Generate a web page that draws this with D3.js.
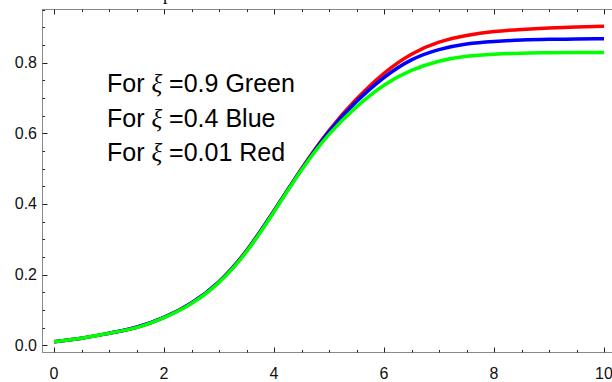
<!DOCTYPE html>
<html>
<head>
<meta charset="utf-8">
<script src="https://cdn.jsdelivr.net/npm/d3@7"></script>
<style>
  body { margin: 0; background: #fff; }
  svg { display: block; }
</style>
</head>
<body>
<svg></svg>
<script>
const width = 612
const height = 382

// every 0.5 in x
const xs = [0, 0.5, 1, 1.5, 2, 2.5, 3, 3.5, 4, 4.5, 5, 5.5, 6, 6.5, 7, 7.5, 8, 8.5, 9, 9.5, 10]
const red = [0.010, 0.020, 0.034, 0.051, 0.079, 0.120, 0.180, 0.268, 0.381, 0.500, 0.608, 0.697, 0.770, 0.824, 0.858, 0.877, 0.888, 0.894, 0.898, 0.901, 0.903]
const blue = [0.010, 0.020, 0.034, 0.051, 0.079, 0.120, 0.180, 0.267, 0.380, 0.498, 0.605, 0.690, 0.758, 0.808, 0.837, 0.853, 0.860, 0.864, 0.866, 0.867, 0.868]
const green = [0.010, 0.020, 0.034, 0.050, 0.078, 0.118, 0.178, 0.265, 0.378, 0.496, 0.597, 0.675, 0.736, 0.778, 0.804, 0.818, 0.824, 0.827, 0.828, 0.829, 0.829]

const xTicks = [0, 2, 4, 6, 8, 10]
const yTicks = [0, 0.2, 0.4, 0.6, 0.8]
const legendLines = [['0.9', 'Green'], ['0.4', 'Blue'], ['0.01', 'Red']]

const svg = d3.select('svg')
    .attr('width', width)
    .attr('height', height)

const x = d3.scaleLinear()
    .domain([-0.21, 10.2])
    .range([42.5, 615])
const y = d3.scaleLinear()
    .domain([-0.0205, 0.9505])
    .range([352.5, 9.5])

// cut-off title descender at the very top
svg.append('text')
    .attr('x', 163)
    .attr('y', -0.5)
    .attr('font-family', 'Liberation Serif')
    .attr('font-size', 18)
    .text('p')

// frame
svg.append('rect')
    .attr('x', x.range()[0])
    .attr('y', y.range()[1])
    .attr('width', x.range()[1] - x.range()[0])
    .attr('height', y.range()[0] - y.range()[1])
    .attr('fill', 'none')
    .attr('stroke', '#8a8a8a')
    .attr('stroke-width', 1)

const xMinor = d3.range(0, 10.01, 0.5)
const yMinor = d3.range(0, 0.951, 0.05)

const tickG = svg.append('g')
    .attr('stroke', '#222')
    .attr('stroke-width', 1)

// bottom & top ticks
tickG.selectAll('.xb')
    .data(xMinor)
    .enter()
    .append('line')
    .attr('x1', d => Math.round(x(d)) + 0.5)
    .attr('x2', d => Math.round(x(d)) + 0.5)
    .attr('y1', y.range()[0])
    .attr('y2', d => y.range()[0] - (Math.abs(d % 2) < 1e-6 ? 5 : 2.5))
tickG.selectAll('.xt')
    .data(xMinor)
    .enter()
    .append('line')
    .attr('x1', d => Math.round(x(d)) + 0.5)
    .attr('x2', d => Math.round(x(d)) + 0.5)
    .attr('y1', y.range()[1])
    .attr('y2', d => y.range()[1] + (Math.abs(d % 2) < 1e-6 ? 5 : 2.5))
// left ticks
tickG.selectAll('.yl')
    .data(yMinor)
    .enter()
    .append('line')
    .attr('y1', d => Math.round(y(d)) + 0.5)
    .attr('y2', d => Math.round(y(d)) + 0.5)
    .attr('x1', x.range()[0])
    .attr('x2', d => x.range()[0] + (Math.abs(Math.round(d * 100) % 20) < 1e-6 ? 5 : 2.5))

// tick labels
svg.append('g')
    .selectAll('text')
    .data(xTicks)
    .enter()
    .append('text')
    .attr('x', d => x(d))
    .attr('y', 379)
    .attr('text-anchor', 'middle')
    .attr('font-family', 'Liberation Sans, Arial, sans-serif')
    .attr('font-size', 16)
    .attr('fill', '#111')
    .text(d => d)

svg.append('g')
    .selectAll('text')
    .data(yTicks)
    .enter()
    .append('text')
    .attr('x', 37)
    .attr('y', d => y(d) + 5.5)
    .attr('text-anchor', 'end')
    .attr('font-family', 'Liberation Sans, Arial, sans-serif')
    .attr('font-size', 16)
    .attr('fill', '#111')
    .text(d3.format('.1f'))

// curves
const line = d3.line()
    .x((d, i) => x(xs[i]))
    .y(d => y(d))
    .curve(d3.curveNatural)

const series = [[red, '#ff0000'], [blue, '#0000ff'], [green, '#00ff00']]
svg.append('g')
    .selectAll('path')
    .data(series)
    .enter()
    .append('path')
    .attr('d', d => line(d[0]))
    .attr('fill', 'none')
    .attr('stroke', d => d[1])
    .attr('stroke-width', 3.5)

// legend text
const legend = svg.append('g')
    .selectAll('text')
    .data(legendLines)
    .enter()
    .append('text')
    .attr('x', 107)
    .attr('y', (d, i) => 92 + i * 34.5)
    .attr('font-family', 'Liberation Sans, Arial, sans-serif')
    .attr('font-size', 25)
    .attr('fill', '#000')
legend.append('tspan').text('For ')
legend.append('tspan')
    .attr('font-family', 'Liberation Serif, Times New Roman, serif')
    .attr('font-style', 'italic')
    .text('\u03BE')
legend.append('tspan').text(d => ' =' + d[0] + ' ' + d[1])
</script>
</body>
</html>
